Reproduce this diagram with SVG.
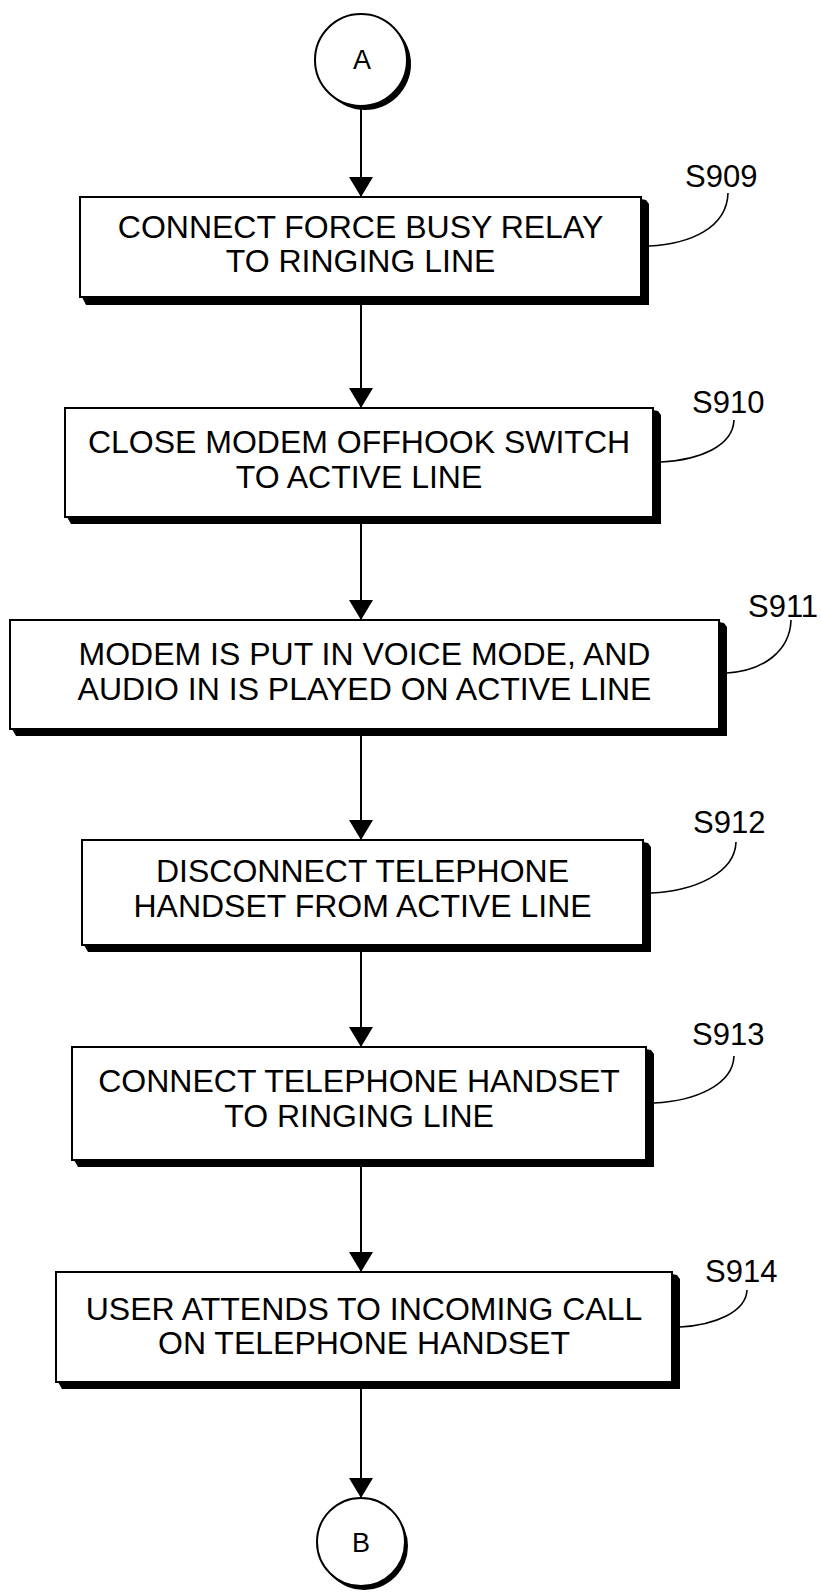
<svg xmlns="http://www.w3.org/2000/svg" width="821" height="1592" viewBox="0 0 821 1592">
<defs>
<style>
.box{fill:#fff;stroke:#000;stroke-width:2}
.sh{fill:#000}
.t{font-family:"Liberation Sans",Arial,Helvetica,sans-serif;font-size:32px;fill:#000;text-anchor:middle}
.lbl{font-family:"Liberation Sans",Arial,Helvetica,sans-serif;font-size:31px;fill:#000}
.ct{font-family:"Liberation Sans",Arial,Helvetica,sans-serif;font-size:27px;fill:#000;text-anchor:middle}
.ln{stroke:#000;stroke-width:2;fill:none}
.lead{stroke:#000;stroke-width:1.6;fill:none}
</style>
<marker id="ah" viewBox="0 0 20 24" refX="20" refY="12" markerWidth="20" markerHeight="24" orient="auto" markerUnits="userSpaceOnUse">
<path d="M0,0 L20,12 L0,24 Z" fill="#000"/>
</marker>
</defs>
<rect width="821" height="1592" fill="#fff"/>

<g id="connectors">
<line class="ln" x1="361" y1="106" x2="361" y2="197" marker-end="url(#ah)"/>
<line class="ln" x1="361" y1="298" x2="361" y2="408" marker-end="url(#ah)"/>
<line class="ln" x1="361" y1="518" x2="361" y2="620" marker-end="url(#ah)"/>
<line class="ln" x1="361" y1="730" x2="361" y2="840" marker-end="url(#ah)"/>
<line class="ln" x1="361" y1="946" x2="361" y2="1047" marker-end="url(#ah)"/>
<line class="ln" x1="361" y1="1161" x2="361" y2="1272" marker-end="url(#ah)"/>
<line class="ln" x1="361" y1="1383" x2="361" y2="1498" marker-end="url(#ah)"/>
<path class="lead" d="M649,246 C690,244 727,228 728,193"/>
<path class="lead" d="M661,462 C700,460 733,446 734,420"/>
<path class="lead" d="M727,673 C762,671 790,652 791,620"/>
<path class="lead" d="M651,893 C695,891 735,873 736,842"/>
<path class="lead" d="M654,1103 C695,1101 733,1085 734,1056"/>
<path class="lead" d="M680,1327 C715,1325 746,1312 747,1290"/>
</g>

<g id="A">
<circle cx="365" cy="64" r="46" class="sh"/>
<circle cx="361" cy="60" r="46" class="box"/>
<text class="ct" x="362" y="69">A</text>
</g>

<g id="S909">
<path class="sh" d="M641,199 L646,200 L649,204 L649,305 L86,305 L82,297 Z"/>
<rect class="box" x="80" y="197" width="561" height="100"/>
<text class="t" x="360.5" y="238">CONNECT FORCE BUSY RELAY</text>
<text class="t" x="360.5" y="272">TO RINGING LINE</text>
<text class="lbl" x="685" y="187">S909</text>
</g>

<g id="S910">
<path class="sh" d="M653,410 L658,411 L661,415 L661,524 L71,524 L67,517 Z"/>
<rect class="box" x="65" y="408" width="588" height="109"/>
<text class="t" x="359" y="453">CLOSE MODEM OFFHOOK SWITCH</text>
<text class="t" x="359" y="488">TO ACTIVE LINE</text>
<text class="lbl" x="692" y="413">S910</text>
</g>

<g id="S911">
<path class="sh" d="M719,622 L724,623 L727,627 L727,736 L16,736 L12,729 Z"/>
<rect class="box" x="10" y="620" width="709" height="109"/>
<text class="t" x="364.5" y="665">MODEM IS PUT IN VOICE MODE, AND</text>
<text class="t" x="364.5" y="700">AUDIO IN IS PLAYED ON ACTIVE LINE</text>
<text class="lbl" x="748" y="617">S911</text>
</g>

<g id="S912">
<path class="sh" d="M643,842 L648,843 L651,847 L651,952 L88,952 L84,945 Z"/>
<rect class="box" x="82" y="840" width="561" height="105"/>
<text class="t" x="362.5" y="882">DISCONNECT TELEPHONE</text>
<text class="t" x="362.5" y="917">HANDSET FROM ACTIVE LINE</text>
<text class="lbl" x="693" y="833">S912</text>
</g>

<g id="S913">
<path class="sh" d="M646,1049 L651,1050 L654,1054 L654,1167 L78,1167 L74,1160 Z"/>
<rect class="box" x="72" y="1047" width="574" height="113"/>
<text class="t" x="359" y="1092">CONNECT TELEPHONE HANDSET</text>
<text class="t" x="359" y="1127">TO RINGING LINE</text>
<text class="lbl" x="692" y="1045">S913</text>
</g>

<g id="S914">
<path class="sh" d="M672,1274 L677,1275 L680,1279 L680,1389 L62,1389 L58,1382 Z"/>
<rect class="box" x="56" y="1272" width="616" height="110"/>
<text class="t" x="364" y="1320">USER ATTENDS TO INCOMING CALL</text>
<text class="t" x="364" y="1354">ON TELEPHONE HANDSET</text>
<text class="lbl" x="705" y="1282">S914</text>
</g>

<g id="B">
<circle cx="364" cy="1546" r="44" class="sh"/>
<circle cx="361" cy="1542" r="44" class="box"/>
<text class="ct" x="361" y="1552">B</text>
</g>
</svg>
